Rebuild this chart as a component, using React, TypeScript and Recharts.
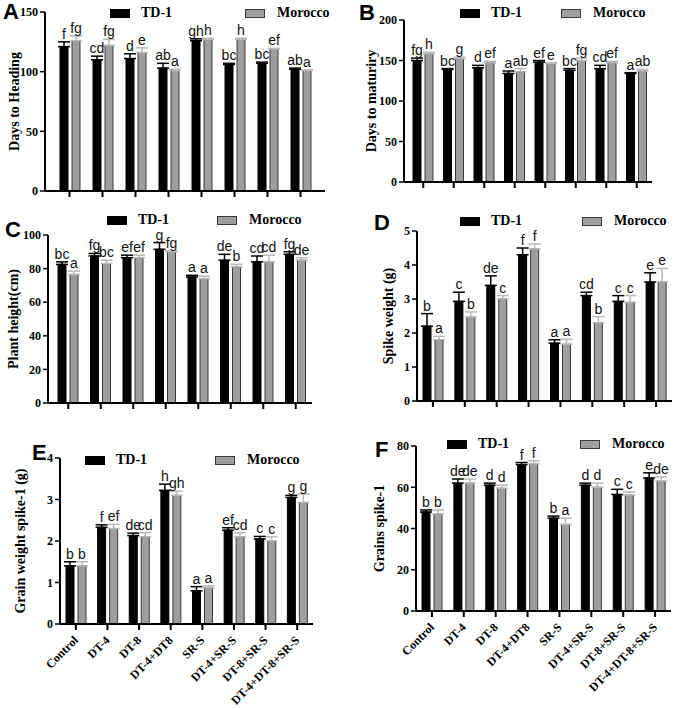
import { BarChart, Bar, XAxis, YAxis, ErrorBar, LabelList, Legend } from 'recharts'

const SERIF = '"Liberation Serif", "Times New Roman", serif'
const SANS = '"Liberation Sans", Arial, sans-serif'
const TD_FILL = '#000000'
const MO_FILL = '#9e9e9e'
const MO_EDGE = '#3a3a3a'
const MO_ERR = '#b8b8b8'

const CATEGORIES = ['Control', 'DT-4', 'DT-8', 'DT-4+DT8', 'SR-S', 'DT-4+SR-S', 'DT-8+SR-S', 'DT-4+DT-8+SR-S']

// A: days to heading
const HEADING_TD = [121, 110, 111, 103, 126, 106, 107, 102]
const HEADING_TD_ERR = [4, 3, 4, 4, 1.5, 1, 1, 1]
const HEADING_TD_SIG = ['f', 'cd', 'd', 'ab', 'gh', 'bc', 'bc', 'ab']
const HEADING_MO = [126, 122, 116, 101, 127, 127, 119, 101]
const HEADING_MO_ERR = [4, 5, 4, 1, 1, 1, 0.5, 0.5]
const HEADING_MO_SIG = ['fg', 'fg', 'e', 'a', 'h', 'h', 'ef', 'a']

// B: days to maturity
const MATURITY_TD = [150, 139, 141, 134, 148, 138, 140, 134]
const MATURITY_TD_ERR = [3, 1, 3, 3, 2, 2, 4, 1]
const MATURITY_TD_SIG = ['fg', 'bc', 'd', 'a', 'ef', 'bc', 'cd', 'a']
const MATURITY_MO = [158, 152, 147, 136, 146, 150, 147, 137]
const MATURITY_MO_ERR = [2, 2, 2, 4, 1, 3, 2, 2]
const MATURITY_MO_SIG = ['h', 'g', 'ef', 'ab', 'e', 'fg', 'ef', 'ab']

// C: plant height
const HEIGHT_TD = [82.5, 87.5, 86.5, 91.5, 75, 85, 84, 88.5]
const HEIGHT_TD_ERR = [1.5, 1.5, 1.5, 4, 1, 3.5, 3.5, 1.5]
const HEIGHT_TD_SIG = ['bc', 'fg', 'ef', 'g', 'a', 'de', 'cd', 'fg']
const HEIGHT_MO = [76.5, 83, 86.5, 90, 74, 81, 84, 85]
const HEIGHT_MO_ERR = [2, 2, 1.5, 0.5, 1.5, 1.5, 4, 1.5]
const HEIGHT_MO_SIG = ['a', 'bc', 'ef', 'fg', 'a', 'b', 'cd', 'de']

// D: spike weight
const SPIKE_TD = [2.2, 2.93, 3.4, 4.3, 1.7, 3.1, 2.93, 3.5]
const SPIKE_TD_ERR = [0.37, 0.27, 0.28, 0.2, 0.1, 0.1, 0.17, 0.27]
const SPIKE_TD_SIG = ['b', 'c', 'de', 'f', 'a', 'cd', 'c', 'e']
const SPIKE_MO = [1.8, 2.47, 3.0, 4.47, 1.67, 2.3, 2.9, 3.5]
const SPIKE_MO_ERR = [0.1, 0.15, 0.1, 0.15, 0.15, 0.18, 0.2, 0.4]
const SPIKE_MO_SIG = ['a', 'b', 'c', 'f', 'a', 'b', 'c', 'e']

// E: grain weight per spike
const GRAIN_WT_TD = [1.4, 2.33, 2.13, 3.22, 0.8, 2.26, 2.05, 3.05]
const GRAIN_WT_TD_ERR = [0.1, 0.06, 0.06, 0.15, 0.1, 0.06, 0.06, 0.05]
const GRAIN_WT_TD_SIG = ['b', 'f', 'de', 'h', 'a', 'ef', 'c', 'g']
const GRAIN_WT_MO = [1.4, 2.3, 2.1, 3.1, 0.87, 2.1, 2.0, 2.93]
const GRAIN_WT_MO_ERR = [0.1, 0.1, 0.1, 0.1, 0.05, 0.1, 0.1, 0.2]
const GRAIN_WT_MO_SIG = ['b', 'ef', 'cd', 'gh', 'a', 'cd', 'c', 'g']

// F: grains per spike
const GRAINS_TD = [48, 62, 61, 71, 45, 61, 56.5, 64.5]
const GRAINS_TD_ERR = [1, 2, 1, 1, 1, 1, 2.5, 2.5]
const GRAINS_TD_SIG = ['b', 'de', 'd', 'f', 'b', 'd', 'c', 'e']
const GRAINS_MO = [47, 62, 59.5, 71.3, 42, 60, 56.2, 63]
const GRAINS_MO_ERR = [2, 2, 1.5, 1.5, 3, 2, 1.5, 2]
const GRAINS_MO_SIG = ['b', 'de', 'd', 'f', 'a', 'd', 'c', 'de']

type Row = {
  name: string
  td: number
  tdErr: number[]
  tdSig: string
  mo: number
  moErr: number[]
  moSig: string
}

function buildRows(td: number[], tdErr: number[], tdSig: string[], mo: number[], moErr: number[], moSig: string[]): Row[] {
  return CATEGORIES.map((name, i) => ({
    name,
    td: td[i],
    tdErr: [0, tdErr[i]],
    tdSig: tdSig[i],
    mo: mo[i],
    moErr: [0, moErr[i]],
    moSig: moSig[i],
  }))
}

const PANELS = [
  {
    letter: 'A', lx: 3, ly: 2,
    x: 0, y: 0, w: 337, h: 200, axisX: 45, axisRight: 325, yTop: 12, yBottom: 191, xAxisH: 9,
    padL: 8, padR: 8, max: 150, ticks: [0, 50, 100, 150],
    title: 'Days to Heading', titleOff: 31, legend: { a: 110, b: 245, y: 13 },
    rows: buildRows(HEADING_TD, HEADING_TD_ERR, HEADING_TD_SIG, HEADING_MO, HEADING_MO_ERR, HEADING_MO_SIG),
  },
  {
    letter: 'B', lx: 22, ly: 3,
    x: 337, y: 0, w: 337, h: 200, axisX: 404, axisRight: 652, yTop: 20, yBottom: 182, xAxisH: 9,
    padL: 4, padR: 0, max: 200, ticks: [0, 50, 100, 150, 200],
    title: 'Days to maturiry', titleOff: 33, legend: { a: 123, b: 224, y: 13 },
    rows: buildRows(MATURITY_TD, MATURITY_TD_ERR, MATURITY_TD_SIG, MATURITY_MO, MATURITY_MO_ERR, MATURITY_MO_SIG),
  },
  {
    letter: 'C', lx: 5, ly: 20,
    x: 0, y: 200, w: 337, h: 215, axisX: 48, axisRight: 312, yTop: 235, yBottom: 403, xAxisH: 9,
    padL: 4, padR: 0, max: 100, ticks: [0, 20, 40, 60, 80, 100],
    title: 'Plant height(cm)', titleOff: 35, legend: { a: 107, b: 217, y: 20 },
    rows: buildRows(HEIGHT_TD, HEIGHT_TD_ERR, HEIGHT_TD_SIG, HEIGHT_MO, HEIGHT_MO_ERR, HEIGHT_MO_SIG),
  },
  {
    letter: 'D', lx: 37, ly: 13,
    x: 337, y: 200, w: 337, h: 215, axisX: 417, axisRight: 672, yTop: 231, yBottom: 401, xAxisH: 9,
    padL: 0, padR: 0, max: 5, ticks: [0, 1, 2, 3, 4, 5],
    title: 'Spike weight (g)', titleOff: 29, legend: { a: 123, b: 245, y: 21 },
    rows: buildRows(SPIKE_TD, SPIKE_TD_ERR, SPIKE_TD_SIG, SPIKE_MO, SPIKE_MO_ERR, SPIKE_MO_SIG),
  },
  {
    letter: 'E', lx: 32, ly: 28,
    x: 0, y: 415, w: 337, h: 294, axisX: 60, axisRight: 313, yTop: 458, yBottom: 624, xAxisH: 85,
    padL: 0, padR: 0, max: 4, ticks: [0, 1, 2, 3, 4], cats: true,
    title: 'Grain weight spike-1 (g)', titleOff: 40, legend: { a: 85, b: 215, y: 45 },
    rows: buildRows(GRAIN_WT_TD, GRAIN_WT_TD_ERR, GRAIN_WT_TD_SIG, GRAIN_WT_MO, GRAIN_WT_MO_ERR, GRAIN_WT_MO_SIG),
  },
  {
    letter: 'F', lx: 38, ly: 25,
    x: 337, y: 415, w: 337, h: 294, axisX: 416, axisRight: 671, yTop: 446, yBottom: 611, xAxisH: 85,
    padL: 0, padR: 0, max: 80, ticks: [0, 20, 40, 60, 80], cats: true,
    title: 'Grains spike-1', titleOff: 37, legend: { a: 110, b: 243, y: 29 },
    rows: buildRows(GRAINS_TD, GRAINS_TD_ERR, GRAINS_TD_SIG, GRAINS_MO, GRAINS_MO_ERR, GRAINS_MO_SIG),
  },
]

const EmptyTick = () => <g />

function CatTick({ x, y, payload }: any) {
  return (
    <text
      transform={`translate(${x + 3},${y + 9}) rotate(-45)`}
      textAnchor="end"
      fontFamily={SERIF}
      fontWeight={700}
      fontSize={12}
      fill="#000"
    >
      {payload.value}
    </text>
  )
}

// letter of the significance group, sitting just above the error cap
const sigLabel = (rows: Row[], key: 'td' | 'mo') => (props: any) => {
  const vb = props.viewBox ?? props
  const { x, y, width, height } = vb
  const row = rows[props.index]
  if (!row) return null
  const v = row[key]
  const e = (key === 'td' ? row.tdErr : row.moErr)[1]
  const errPx = v ? (e * height) / v : 0
  return (
    <text x={x + width / 2} y={y - errPx - 3} textAnchor="middle" fontFamily={SANS} fontSize={14} fill="#111">
      {key === 'td' ? row.tdSig : row.moSig}
    </text>
  )
}

const yTitle = (text: string, off: number) => (props: any) => {
  const vb = props.viewBox
  const cx = vb.x + vb.width - off
  const cy = vb.y + vb.height / 2
  return (
    <text
      x={cx}
      y={cy}
      transform={`rotate(-90 ${cx} ${cy})`}
      textAnchor="middle"
      dominantBaseline="central"
      fontFamily={SERIF}
      fontWeight={700}
      fontSize={14}
      fill="#000"
    >
      {text}
    </text>
  )
}

function LegendBox({ w, pos }: { w: number; pos: { a: number; b: number; y: number } }) {
  const txt = { position: 'absolute' as const, fontFamily: SERIF, fontWeight: 700, fontSize: 14, lineHeight: '18px', top: pos.y - 9, color: '#000' }
  return (
    <div style={{ position: 'relative', width: w, height: 0 }}>
      <div style={{ position: 'absolute', left: pos.a, top: pos.y - 4.5, width: 20, height: 9, background: TD_FILL }} />
      <span style={{ ...txt, left: pos.a + 31 }}>TD-1</span>
      <div style={{ position: 'absolute', left: pos.b, top: pos.y - 4.5, width: 18, height: 7, background: MO_FILL, border: `1px solid ${MO_EDGE}` }} />
      <span style={{ ...txt, left: pos.b + 32 }}>Morocco</span>
    </div>
  )
}

function Panel({ p }: { p: (typeof PANELS)[number] }) {
  const margin = {
    top: p.yTop - p.y,
    right: p.x + p.w - p.axisRight,
    bottom: p.y + p.h - p.yBottom - p.xAxisH,
    left: 0,
  }
  return (
    <div style={{ position: 'absolute', left: p.x, top: p.y, width: p.w, height: p.h }}>
      <BarChart width={p.w} height={p.h} data={p.rows} margin={margin} barSize={8} barGap={4}>
        <XAxis
          dataKey="name"
          height={p.xAxisH}
          interval={0}
          padding={{ left: p.padL, right: p.padR }}
          axisLine={{ stroke: '#000', strokeWidth: 2 }}
          tickLine={{ stroke: '#000', strokeWidth: 2 }}
          tickSize={6}
          tick={p.cats ? CatTick : EmptyTick}
        />
        <YAxis
          width={p.axisX - p.x}
          domain={[0, p.max]}
          ticks={p.ticks}
          interval={0}
          axisLine={{ stroke: '#000', strokeWidth: 2 }}
          tickLine={{ stroke: '#000', strokeWidth: 1.5 }}
          tickSize={5}
          tick={{ fontFamily: SERIF, fontWeight: 700, fontSize: 12, fill: '#000' }}
          label={yTitle(p.title, p.titleOff)}
        />
        <Legend
          layout="horizontal"
          verticalAlign="middle"
          align="center"
          wrapperStyle={{ left: 0, top: 0, width: p.w }}
          content={() => <LegendBox w={p.w} pos={p.legend} />}
        />
        <Bar dataKey="td" name="TD-1" fill={TD_FILL} stroke={TD_FILL} isAnimationActive={false}>
          <ErrorBar dataKey="tdErr" width={6} strokeWidth={1.5} stroke="#000" />
          <LabelList dataKey="tdSig" content={sigLabel(p.rows, 'td')} />
        </Bar>
        <Bar dataKey="mo" name="Morocco" fill={MO_FILL} stroke={MO_EDGE} strokeWidth={1} isAnimationActive={false}>
          <ErrorBar dataKey="moErr" width={6} strokeWidth={1.5} stroke={MO_ERR} />
          <LabelList dataKey="moSig" content={sigLabel(p.rows, 'mo')} />
        </Bar>
      </BarChart>
      <div
        style={{
          position: 'absolute', left: p.lx, top: p.ly, fontFamily: SANS, fontWeight: 700,
          fontSize: 22, lineHeight: '20px', color: '#000',
        }}
      >
        {p.letter}
      </div>
    </div>
  )
}

export default function App() {
  return (
    <div style={{ position: 'absolute', left: 0, top: 0, width: 674, height: 709, background: '#fff', overflow: 'hidden' }}>
      {PANELS.map(p => <Panel key={p.letter} p={p} />)}
    </div>
  )
}
